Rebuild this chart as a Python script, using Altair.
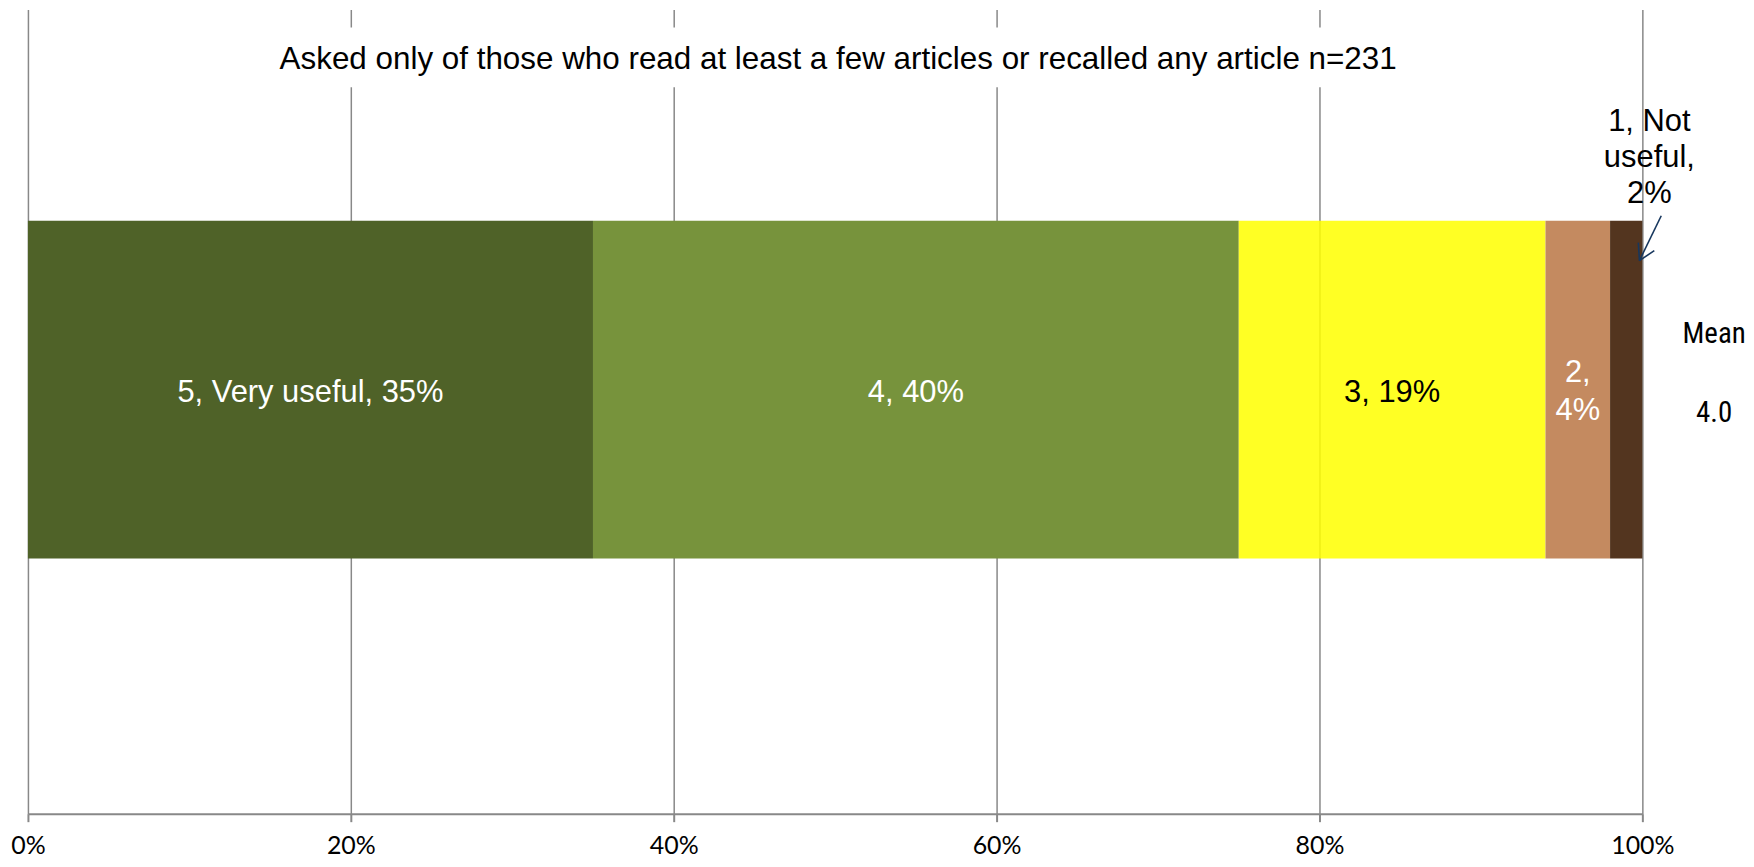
import altair as alt
import pandas as pd

# ---- data ----
ratings = ["5", "4", "3", "2", "1"]
shares = [0.35, 0.40, 0.19, 0.04, 0.02]
labels = ["5, Very useful, 35%", "4, 40%", "3, 19%", "2,\n4%", "1, Not\nuseful,\n2%"]
bar_colors = ["#4F6228", "#77933C", "#FFFF00", "#C48A60", "#53351F"]
bar_opacity = [1.0, 1.0, 0.86, 1.0, 1.0]
label_colors = ["white", "white", "black", "white", "black"]
tick_values = [0, 0.2, 0.4, 0.6, 0.8, 1.0]
title_text = "Asked only of those who read at least a few articles or recalled any article n=231"
mean_label = "Mean"
mean_value = "4.0"
question = "Q"

df = pd.DataFrame({
    "rating": ratings,
    "share": shares,
    "label": labels,
    "bar_color": bar_colors,
    "bar_opacity": bar_opacity,
    "label_color": label_colors,
    "order": list(range(len(ratings))),
    "q": [question] * len(ratings),
})
ann = pd.DataFrame({"q": [question]})

W, H = 1620, 807
ARIAL = "Liberation Sans"

xscale = alt.Scale(domain=[0, 1], nice=False, zero=True)
xaxis = alt.Axis(values=tick_values, format=".0%", title=None, labelFlush=False)
yenc = alt.Y("q:N", axis=None, scale=alt.Scale(paddingInner=0, paddingOuter=0.69, align=0.453))


def X(field=None, datum=None):
    if datum is not None:
        return alt.X(datum=datum, type="quantitative", scale=xscale, axis=xaxis)
    return alt.X(field, type="quantitative", scale=xscale, axis=xaxis)


stacked = alt.Chart(df).transform_stack(
    stack="share", groupby=["q"], as_=["x0", "x1"],
    sort=[alt.SortField(field="order", order="ascending")]
).transform_calculate(mid="(datum.x0 + datum.x1) / 2")

bars = stacked.mark_bar(strokeWidth=0).encode(
    x=X("x0"),
    x2="x1:Q",
    y=yenc,
    color=alt.Color("bar_color:N", scale=None),
    opacity=alt.Opacity("bar_opacity:Q", scale=None),
)

main_labels = stacked.transform_filter(
    alt.FieldOneOfPredicate(field="rating", oneOf=["5", "4", "3"])
).mark_text(font=ARIAL, fontSize=31, baseline="alphabetic", dy=12).encode(
    x=X("mid"), y=yenc, text="label:N", color=alt.Color("label_color:N", scale=None)
)

label_two = stacked.transform_filter(alt.datum.rating == "2").mark_text(
    font=ARIAL, fontSize=31, baseline="alphabetic", dy=-8, lineBreak="\n", lineHeight=38
).encode(x=X("mid"), y=yenc, text="label:N", color=alt.Color("label_color:N", scale=None))

label_one = stacked.transform_filter(alt.datum.rating == "1").mark_text(
    font=ARIAL, fontSize=31, baseline="alphabetic", dy=-260, dx=7, lineBreak="\n", lineHeight=36.6
).encode(x=X("x1"), y=yenc, text="label:N", color=alt.Color("label_color:N", scale=None))

# white box behind the in-plot title (hides gridlines there)
title_box = alt.Chart(ann).mark_rect(color="white").encode(
    x=X(datum=0.146), x2=alt.X2(datum=0.856), y=alt.value(18), y2=alt.value(78)
)
title_mark = alt.Chart(ann).mark_text(
    font=ARIAL, fontSize=31.5, baseline="alphabetic", dy=-322, dx=3, color="black"
).encode(x=X(datum=0.5), y=yenc, text=alt.value(title_text))

# arrow pointing at the "1" segment
arrow_col = "#17375E"
arrow = alt.layer(
    alt.Chart(ann).mark_rule(color=arrow_col, strokeWidth=1.6).encode(
        x=X(datum=1.0117), x2=alt.X2(datum=0.9982), y=alt.value(207), y2=alt.value(252)),
    alt.Chart(ann).mark_rule(color=arrow_col, strokeWidth=1.6).encode(
        x=X(datum=0.9982), x2=alt.X2(datum=1.0074), y=alt.value(252), y2=alt.value(242)),
    alt.Chart(ann).mark_rule(color=arrow_col, strokeWidth=1.6).encode(
        x=X(datum=0.9982), x2=alt.X2(datum=0.9975), y=alt.value(252), y2=alt.value(234)),
)

NARROW = "Liberation Sans Narrow, Arial Narrow, Roboto Condensed, sans-serif"
mean_title = alt.Chart(ann).mark_text(
    font=NARROW, fontSize=29, baseline="alphabetic", dx=72, dy=-47, color="black"
).encode(x=X(datum=1.0), y=yenc, text=alt.value(mean_label))
mean_val = alt.Chart(ann).mark_text(
    font=NARROW, fontSize=29, baseline="alphabetic", dx=72, dy=32, color="black"
).encode(x=X(datum=1.0), y=yenc, text=alt.value(mean_value))

chart = alt.layer(
    bars, title_box, title_mark, main_labels, label_two, label_one, arrow, mean_title, mean_val
).properties(
    width=W, height=H,
    padding={"left": 20, "top": 0, "right": 104, "bottom": 48},
    autosize=alt.AutoSizeParams(type="none"),
).configure_view(stroke=None).configure_axisX(
    grid=True, gridColor="#888888", gridWidth=1.5,
    domainColor="#888888", domainWidth=2,
    tickColor="#888888", tickWidth=2, tickSize=8,
    labelFont="Lato", labelFontSize=25, labelColor="black", labelPadding=12,
)

chart.save("out.html", embed_options={"renderer": "svg", "actions": False})
